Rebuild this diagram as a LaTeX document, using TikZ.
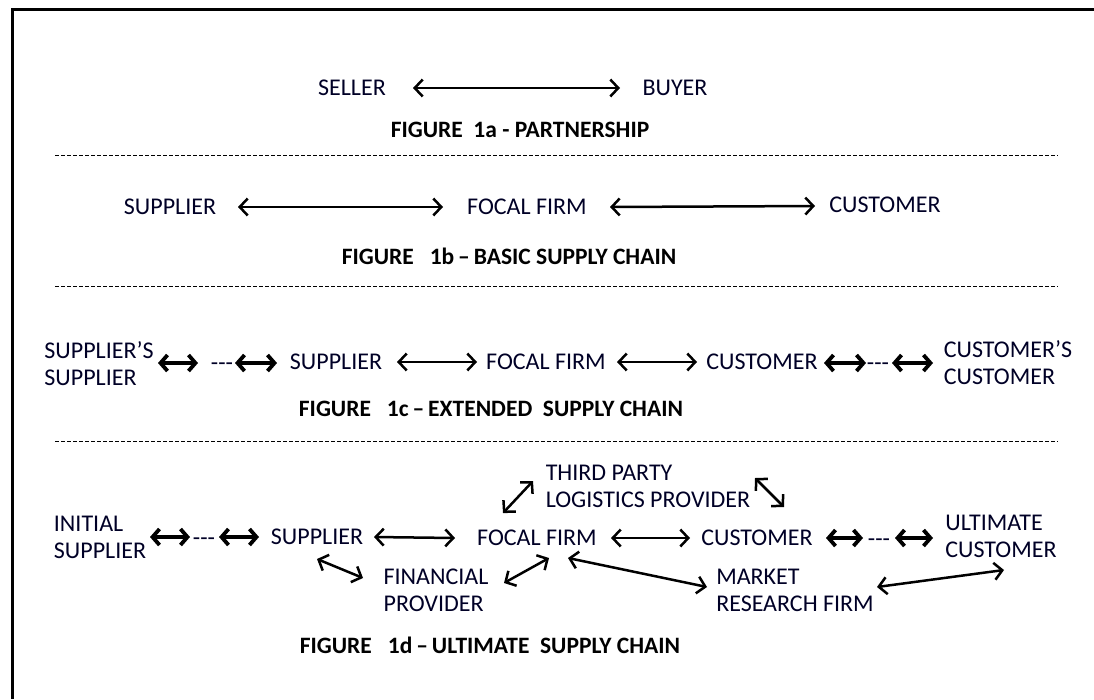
\documentclass[tikz,border=0pt]{standalone}
\usepackage{fontspec}
\setmainfont{Carlito}
\usetikzlibrary{arrows.meta}
\begin{document}
\begin{tikzpicture}[x=1pt,y=-1pt,
  lbl/.style={inner sep=0pt,font=\fontsize{24pt}{27pt}\selectfont,text=black!85!blue},
  lbl2/.style={lbl,align=left},
  ttl/.style={inner sep=0pt,font=\fontsize{23.5pt}{27pt}\selectfont\bfseries,text=black},
  arr/.style={line width=2.5pt,{Straight Barb[length=8pt,width=17pt]}-{Straight Barb[length=8pt,width=17pt]}},
  tarr/.style={line width=3.8pt,{Straight Barb[length=7pt,width=16pt]}-{Straight Barb[length=7pt,width=16pt]}},
  sep/.style={line width=0.8pt,dash pattern=on 4pt off 2pt}]
\useasboundingbox (0,0) rectangle (1094,699);
\draw[line width=3pt] (12,699) coordinate (fb) -- (12,9) coordinate (fc) -- (1094,9) coordinate (fr);
% 1a
\node[lbl] (seller) at (352,88) {SELLER};
\node[lbl] (buyer) at (675,88) {BUYER};
\draw[arr] ([shift={(61,0)}]seller.center) -- ([shift={(-55,0)}]buyer.center);
\node[ttl] (t1a) at (520,130) {FIGURE \ 1a - PARTNERSHIP};
\coordinate (d1l) at (55,155); \coordinate (d1r) at (1058,155);
\draw[sep] (d1l) -- (d1r);
% 1b
\node[lbl] (supb) at (170,207) {SUPPLIER};
\node[lbl] (ffb) at (527,207) {FOCAL FIRM};
\node[lbl] (custb) at (885,205) {CUSTOMER};
\draw[arr] ([shift={(68,0)}]supb.center) -- ([shift={(-84,0)}]ffb.center);
\draw[arr] ([shift={(83,0)}]ffb.center) -- ([shift={(-70,1)}]custb.center);
\node[ttl] (t1b) at (509,256) {FIGURE \ \ 1b\,--\,BASIC SUPPLY CHAIN};
\coordinate (d2l) at (55,286); \coordinate (d2r) at (1058,286);
\draw[sep] (d2l) -- (d2r);
% 1c
\node[lbl2] (ssc) at (99,364) {SUPPLIER’S\\SUPPLIER};
\node[lbl] (dc1) at (222,367) {-{}-{}-};
\node[lbl] (supc) at (336,362) {SUPPLIER};
\node[lbl] (ffc) at (546,362) {FOCAL FIRM};
\node[lbl] (custc) at (762,362) {CUSTOMER};
\node[lbl] (dc2) at (878,367) {-{}-{}-};
\node[lbl2] (ccc) at (1008,363) {CUSTOMER’S\\CUSTOMER};
\draw[tarr] ([shift={(59,-1)}]ssc.center) -- ([shift={(-24,-4)}]dc1.center);
\draw[tarr] ([shift={(13,-4)}]dc1.center) -- ([shift={(-59,1)}]supc.center);
\draw[arr] ([shift={(61,0)}]supc.center) -- ([shift={(-69,0)}]ffc.center);
\draw[arr] ([shift={(71,0)}]ffc.center) -- ([shift={(-65,0)}]custc.center);
\draw[tarr] ([shift={(62,1)}]custc.center) -- ([shift={(-12,-4)}]dc2.center);
\draw[tarr] ([shift={(14,-4)}]dc2.center) -- ([shift={(-75,0)}]ccc.center);
\node[ttl] (t1c) at (491,409) {FIGURE \ \ 1c\,--\,EXTENDED \ SUPPLY CHAIN};
\coordinate (d3l) at (55,441); \coordinate (d3r) at (1058,441);
\draw[sep] (d3l) -- (d3r);
% 1d
\node[lbl2] (isd) at (100,537) {INITIAL\\SUPPLIER};
\node[lbl] (dd1) at (204,542) {-{}-{}-};
\node[lbl] (supd) at (317,537) {SUPPLIER};
\node[lbl] (ffd) at (537,538) {FOCAL FIRM};
\node[lbl] (custd) at (757,538) {CUSTOMER};
\node[lbl] (dd2) at (879,543) {-{}-{}-};
\node[lbl2] (ucd) at (1001,536) {ULTIMATE\\CUSTOMER};
\node[lbl2] (tpl) at (648,486) {THIRD PARTY\\LOGISTICS PROVIDER};
\node[lbl2] (fin) at (436,590) {FINANCIAL\\PROVIDER};
\node[lbl2] (mrf) at (795,590) {MARKET\\RESEARCH FIRM};
\draw[tarr] ([shift={(50,0)}]isd.center) -- ([shift={(-14,-5)}]dd1.center);
\draw[tarr] ([shift={(15,-5)}]dd1.center) -- ([shift={(-58,0)}]supd.center);
\draw[arr] ([shift={(57,0)}]supd.center) -- ([shift={(-82,0)}]ffd.center);
\draw[arr] ([shift={(74,0)}]ffd.center) -- ([shift={(-67,0)}]custd.center);
\draw[tarr] ([shift={(69,0)}]custd.center) -- ([shift={(-16,-5)}]dd2.center);
\draw[tarr] ([shift={(16,-5)}]dd2.center) -- ([shift={(-68,2)}]ucd.center);
\draw[arr] ([shift={(-34,-25)}]ffd.center) -- ([shift={(-115,-5)}]tpl.center);
\draw[arr] ([shift={(107,-8)}]tpl.center) -- ([shift={(27,-31)}]custd.center);
\draw[arr] ([shift={(0,22)}]supd.center) -- ([shift={(-73,-12)}]fin.center);
\draw[arr] ([shift={(12,20)}]ffd.center) -- ([shift={(68,-7)}]fin.center);
\draw[arr] ([shift={(31,20)}]ffd.center) -- ([shift={(-88,-3)}]mrf.center);
\draw[arr] ([shift={(82,-3)}]mrf.center) -- ([shift={(3,34)}]ucd.center);
\node[ttl] (t1d) at (490,645) {FIGURE \ \ 1d\,--\,ULTIMATE \ SUPPLY CHAIN};
\end{tikzpicture}
\end{document}
